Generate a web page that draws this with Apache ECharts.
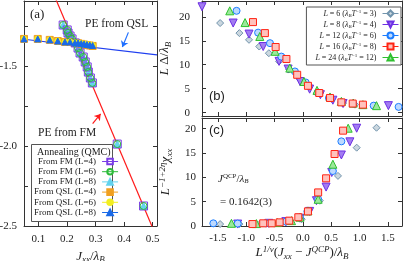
<!DOCTYPE html>
<html><head><meta charset="utf-8">
<script src="https://cdn.jsdelivr.net/npm/echarts@6/dist/echarts.min.js"></script>
<style>html,body{margin:0;padding:0;background:#fff}#c{width:405px;height:261px}</style>
</head><body><div id="c"></div>
<script>
// ---------- Panel (a): annealing energies ----------
const fmJ    = [0.187,0.201,0.204,0.211,0.218,0.229,0.239,0.246,0.257,0.264,0.271,0.275,0.282,0.289,0.376,0.468];
const fmE_L4 = [-1.244,-1.275,-1.294,-1.313,-1.331,-1.356,-1.388,-1.419,-1.444,-1.475,-1.506,-1.538,-1.575,-1.606,-1.988,-2.375];
const fmE_L6 = [-1.244,-1.275,-1.294,-1.313,-1.331,-1.356,-1.388,-1.419,-1.444,-1.475,-1.506,-1.538,-1.575,-1.606,-1.988,-2.375];
const fmE_L8 = [-1.244,-1.275,-1.294,-1.313,-1.331,-1.356,-1.388,-1.419,-1.444,-1.475,-1.506,-1.538,-1.575,-1.606,-1.988,-2.375];
const qslJ    = [0.05,0.098,0.14,0.168,0.193,0.211,0.228,0.239,0.25,0.26,0.27,0.28,0.29];
const qslE_L4 = [-1.331,-1.331,-1.337,-1.344,-1.35,-1.35,-1.356,-1.358,-1.362,-1.366,-1.369,-1.372,-1.375];
const qslE_L6 = [-1.331,-1.331,-1.337,-1.344,-1.35,-1.35,-1.356,-1.356,-1.36,-1.363,-1.366,-1.369,-1.372];
const qslE_L8 = [-1.331,-1.331,-1.337,-1.344,-1.35,-1.35,-1.356,-1.356,-1.36,-1.363,-1.366,-1.369,-1.372];
const fmLineJ  = [0.15, 0.51];
const fmLineE  = [-1.035, -2.555];
const qslLineJ = [0.05, 0.515];
const qslLineE = [-1.333, -1.431];

// ---------- Panel (b): L*Delta ----------
const bX_L6  = [-1.46,-1.12,-0.95,-0.77,-0.6,-0.42,-0.24,-0.05,0.12,0.3,0.51,0.71,0.92,1.27];
const bY_L6  = [18.7,16.6,15.2,13.8,12.4,10.7,9.0,6.9,5.6,4.1,2.85,2.0,1.67,1.46];
const bX_L8  = [-1.78,-1.23,-0.95,-0.7,-0.42,-0.26,-0.05,0.12,0.31,0.53,0.71,1.51];
const bY_L8  = [22.1,18.7,16.4,13.8,10.7,9.1,6.5,4.9,3.75,2.6,1.9,1.46];
const bX_L12 = [-1.17,-0.79,-0.58,-0.38,-0.14,0.05,0.26,0.46,0.68,0.89,1.25,1.69];
const bY_L12 = [21.25,16.7,14.5,11.7,8.6,6.3,4.2,3.06,2.15,1.9,1.46,1.2];
const bX_L16 = [-0.88,-0.67,-0.48,-0.29,-0.1,0.09,0.29,0.48,0.68,0.88,1.06];
const bY_L16 = [18.9,16.6,13.7,11.2,7.9,5.6,4.1,3.06,2.15,1.9,1.67];
const bX_L24 = [-1.29,-1.02,-0.76,-0.49,-0.23,0.02,0.25,0.48,0.68,0.89,1.06,1.3];
const bY_L24 = [21.25,18.8,15.9,12.8,9.3,6.5,4.65,3.27,2.35,2.0,1.67,1.46];

// ---------- Panel (c): scaled susceptibility ----------
const cX_L6  = [-1.46,-1.12,-0.75,-0.4,-0.02,0.3,0.62,0.95,1.3];
const cY_L6  = [0.4,0.4,0.5,0.7,1.4,5.2,10.3,16.1,20.2];
const cX_L8  = [-1.79,-1.15,-0.6,-0.3,-0.05,0.12,0.24,0.41,0.51,0.68,0.83,0.95];
const cY_L8  = [0.4,0.4,0.55,0.9,1.6,3.0,5.2,8.0,11.0,14.6,17.3,20.1];
const cX_L12 = [-1.58,-1.15,-0.65,-0.3,-0.05,0.08,0.27,0.53,0.68];
const cY_L12 = [0.55,0.5,0.55,0.9,1.7,3.0,5.5,11.3,17.4];
const cX_L16 = [-0.89,-0.7,-0.55,-0.41,-0.24,-0.08,0.09,0.27,0.41,0.56,0.71,0.71];
const cY_L16 = [0.4,0.55,0.55,0.75,1.1,1.8,3.0,6.9,9.8,14.8,19.6,22.4];
const cX_L24 = [-1.26,-0.82,-0.45,-0.2,-0.05,0.09,0.27,0.53,0.8];
const cY_L24 = [0.55,0.5,0.7,1.1,1.8,3.1,5.5,12.7,20.1];

const pairs = (xs, ys) => xs.map((x, i) => [x, ys[i]]);
const SERIF = '"Liberation Serif","DejaVu Serif",serif';
const SANS = '"Liberation Sans",Arial,sans-serif';
const AX = '#333';

function mkAxis(grid, min, max, pos, labels, extra) {
  return Object.assign({
    type: 'value', gridIndex: grid, min: min, max: max, position: pos,
    axisLine: {show: true, onZero: false, lineStyle: {color: AX, width: 1}},
    axisTick: {show: true, inside: true, length: 4, lineStyle: {color: AX}},
    axisLabel: {show: labels, fontFamily: SERIF, fontSize: 11, color: '#222', margin: 6,
      showMinLabel: false, showMaxLabel: false},
    splitLine: {show: false}
  }, extra || {});
}
const lab = (margin, fmt) => ({show: true, fontFamily: SERIF, fontSize: 11, color: '#222', margin: margin,
  showMinLabel: false, showMaxLabel: false, formatter: fmt});

const richBase = {
  i: {fontFamily: SERIF, fontStyle: 'italic', fontSize: 13, color: '#222'},
  n: {fontFamily: SERIF, fontSize: 13, color: '#222'},
  s: {fontFamily: SERIF, fontStyle: 'italic', fontSize: 9, color: '#222', verticalAlign: 'bottom', padding: [7, 0, 0, 0]},
  p: {fontFamily: SERIF, fontStyle: 'italic', fontSize: 9, color: '#222', verticalAlign: 'top', padding: [0, 0, 7, 0]}
};
const minor = {show: true, splitNumber: 2, length: 4, lineStyle: {color: AX}};

const xAxis = [
  mkAxis(0, 0.05, 0.515, 'bottom', true, {splitNumber: 5,
    axisLabel: lab(8, v => v.toFixed(1)),
    name: '{i|J}{s|xx}{n|/}{i|λ}{s|B}', nameLocation: 'middle', nameGap: 19,
    nameTextStyle: {rich: richBase}}),
  mkAxis(0, 0.05, 0.515, 'top', false, {splitNumber: 5}),
  mkAxis(1, -1.78, 1.75, 'bottom', false, {splitNumber: 7}),
  mkAxis(1, -1.78, 1.75, 'top', false, {splitNumber: 7}),
  mkAxis(2, -1.78, 1.75, 'bottom', true, {splitNumber: 7,
    axisLabel: lab(7, v => v.toFixed(1)),
    name: '{i|L}{p|1/ν}{n|(}{i|J}{s|xx}{n| − }{i|J}{p|QCP}{n|)/}{i|λ}{s|B}', nameLocation: 'middle', nameGap: 19,
    nameTextStyle: {rich: richBase}}),
  mkAxis(2, -1.78, 1.75, 'top', false, {splitNumber: 7})
];
const yAxis = [
  mkAxis(0, -2.5, -1.094, 'left', true, {splitNumber: 3, minorTick: minor,
    axisLabel: Object.assign(lab(7, v => v.toFixed(1)), {showMinLabel: true}),
    name: '{i|E}{n|/}{i|λ}{s|B}', nameLocation: 'middle', nameGap: 17, nameRotate: 90,
    nameTextStyle: {rich: richBase}}),
  mkAxis(0, -2.5, -1.094, 'right', false, {splitNumber: 3, minorTick: minor}),
  mkAxis(1, -0.7, 23.3, 'left', true, {splitNumber: 5,
    axisLabel: lab(12, v => String(v)),
    name: '{i|L}{n| Δ/}{i|λ}{s|B}', nameLocation: 'middle', nameGap: 29, nameRotate: 90,
    nameTextStyle: {rich: richBase}}),
  mkAxis(1, -0.7, 23.3, 'right', false, {splitNumber: 5}),
  mkAxis(2, 0, 22.2, 'left', true, {splitNumber: 5,
    axisLabel: Object.assign(lab(6, v => String(v)), {showMinLabel: true}),
    name: '{i|L}{p|−1+2η}{i|χ}{s|xx}', nameLocation: 'middle', nameGap: 28, nameRotate: 90,
    nameTextStyle: {rich: richBase}}),
  mkAxis(2, 0, 22.2, 'right', false, {splitNumber: 5})
];

function pt(name, x, y, xi, yi, symbol, size, fill, stroke, rot, z) {
  return {
    name: name, type: 'line', xAxisIndex: xi, yAxisIndex: yi, data: pairs(x, y),
    symbol: symbol, symbolSize: size, symbolRotate: rot || 0, showSymbol: true,
    color: stroke, lineStyle: {opacity: 0, width: 1, color: stroke},
    itemStyle: {color: fill, borderColor: stroke, borderWidth: 1},
    z: z || 3, animation: false, clip: true
  };
}

const series = [
  {type: 'line', name: 'fmLine', xAxisIndex: 0, yAxisIndex: 0, data: pairs(fmLineJ, fmLineE),
   showSymbol: false, symbol: 'none', lineStyle: {color: '#ff1a1a', width: 1.2}, z: 2, animation: false},
  {type: 'line', name: 'qslLine', xAxisIndex: 0, yAxisIndex: 0, data: pairs(qslLineJ, qslLineE),
   showSymbol: false, symbol: 'none', lineStyle: {color: '#1f3ff0', width: 1.2}, z: 2, animation: false},
  pt('From FM (L=4)', fmJ, fmE_L4, 0, 0, 'rect', 8, 'rgba(255,255,255,0)', '#7a3ce6', 0, 4),
  pt('From FM (L=6)', fmJ, fmE_L6, 0, 0, 'circle', 7, 'rgba(255,255,255,0)', '#2dbb3a', 0, 4),
  pt('From FM (L=8)', fmJ, fmE_L8, 0, 0, 'triangle', 7, '#63d3ee', '#63d3ee', 0, 3),
  pt('From QSL (L=4)', qslJ, qslE_L4, 0, 0, 'rect', 7, '#f0a020', '#f0a020', 0, 3),
  pt('From QSL (L=6)', qslJ, qslE_L6, 0, 0, 'circle', 6, '#f2ee22', '#f2ee22', 0, 4),
  pt('From QSL (L=8)', qslJ, qslE_L8, 0, 0, 'triangle', 6, '#1a6ae8', '#1a6ae8', 0, 5),
  {type: 'lines', coordinateSystem: 'cartesian2d', xAxisIndex: 0, yAxisIndex: 0,
   symbol: ['none', 'arrow'], symbolSize: 6, silent: true, animation: false,
   lineStyle: {color: '#1f6fff', width: 1.2, opacity: 1},
   data: [{coords: [[0.415, -1.29], [0.394, -1.382]]}]},
  {type: 'lines', coordinateSystem: 'cartesian2d', xAxisIndex: 0, yAxisIndex: 0,
   symbol: ['none', 'arrow'], symbolSize: 6, silent: true, animation: false,
   lineStyle: {color: '#ff1a1a', width: 1.2, opacity: 1},
   data: [{coords: [[0.29, -1.86], [0.318, -1.8]]}]},

  pt('L6', bX_L6, bY_L6, 2, 2, 'diamond', 7, '#cbd7df', '#7294ad', 0, 3),
  pt('L8', bX_L8, bY_L8, 2, 2, 'triangle', 8, '#a27cf2', '#6d2fe3', 180, 3),
  pt('L12', bX_L12, bY_L12, 2, 2, 'circle', 7, '#bcd9ff', '#1c7dff', 0, 3),
  pt('L16', bX_L16, bY_L16, 2, 2, 'rect', 7, '#ffc2bc', '#ff2414', 0, 4),
  pt('L24', bX_L24, bY_L24, 2, 2, 'triangle', 8, '#9be89b', '#2fc02f', 0, 3),

  pt('L6', cX_L6, cY_L6, 4, 4, 'diamond', 7, '#cbd7df', '#7294ad', 0, 3),
  pt('L8', cX_L8, cY_L8, 4, 4, 'triangle', 8, '#a27cf2', '#6d2fe3', 180, 3),
  pt('L12', cX_L12, cY_L12, 4, 4, 'circle', 7, '#bcd9ff', '#1c7dff', 0, 3),
  pt('L16', cX_L16, cY_L16, 4, 4, 'rect', 7, '#ffc2bc', '#ff2414', 0, 4),
  pt('L24', cX_L24, cY_L24, 4, 4, 'triangle', 8, '#9be89b', '#2fc02f', 0, 3)
];

const legendNames = {
  L6: ['6', '3'], L8: ['8', '4'], L12: ['12', '6'], L16: ['16', '8'], L24: ['24', '12']
};
const legRich = {
  i: {fontFamily: SERIF, fontStyle: 'italic', fontSize: 8, color: '#222'},
  n: {fontFamily: SERIF, fontSize: 8, color: '#222'},
  s: {fontFamily: SERIF, fontStyle: 'italic', fontSize: 5, color: '#222', verticalAlign: 'bottom', padding: [4, 0, 0, 0]},
  p: {fontFamily: SERIF, fontSize: 5, color: '#222', verticalAlign: 'top', padding: [0, 0, 4, 0]}
};

const option = {
  backgroundColor: '#fff',
  animation: false,
  grid: [
    {left: 24, top: 1, width: 133, height: 225, outerBoundsMode: 'none', containLabel: false},
    {left: 202, top: 1, width: 200, height: 115, outerBoundsMode: 'none', containLabel: false},
    {left: 202, top: 118, width: 200, height: 108, outerBoundsMode: 'none', containLabel: false}
  ],
  xAxis: xAxis,
  yAxis: yAxis,
  legend: [
    {data: ['From FM (L=4)', 'From FM (L=6)', 'From FM (L=8)', 'From QSL (L=4)', 'From QSL (L=6)', 'From QSL (L=8)'],
     orient: 'vertical', left: 34, top: 157, align: 'right', itemGap: 1.2, itemWidth: 16, itemHeight: 7,
     padding: 0, selectedMode: false, z: 100,
     textStyle: {fontFamily: SERIF, fontSize: 9, color: '#222', padding: [0, 1, 0, 0]},
     lineStyle: {opacity: 1, width: 1}},
    {data: ['L6', 'L8', 'L12', 'L16', 'L24'],
     orient: 'vertical', right: 4, top: 7, align: 'right', itemGap: 2, itemWidth: 16, itemHeight: 7.5,
     padding: [2, 2, 3, 9], borderColor: '#555', borderWidth: 1, selectedMode: false,
     backgroundColor: '#fff', z: 100,
     formatter: n => '{i|L}{n| = ' + legendNames[n][0] + ' (}{i|λ}{s|B}{i|T}{p|−1}{n| = ' + legendNames[n][1] + ')}',
     textStyle: {rich: legRich, fontSize: 8, padding: [0, 1, 0, 0]},
     lineStyle: {opacity: 1, width: 1}}
  ],
  graphic: [
    {type: 'rect', left: 31, top: 144, shape: {width: 81, height: 77},
     style: {fill: '#fff', stroke: '#555', lineWidth: 1}, z: 50},
    {type: 'text', left: 37, top: 147, z: 100,
     style: {text: 'Annealing (QMC)', font: '10px ' + SERIF, fill: '#222'}},
    {type: 'text', left: 30, top: 8, z: 100,
     style: {text: '(a)', font: '13px ' + SERIF, fill: '#222'}},
    {type: 'text', left: 85, top: 18, z: 100,
     style: {text: 'PE from QSL', font: '11.5px ' + SERIF, fill: '#222'}},
    {type: 'text', left: 38, top: 127, z: 100,
     style: {text: 'PE from FM', font: '11.5px ' + SERIF, fill: '#222'}},
    {type: 'text', left: 209, top: 90, z: 100,
     style: {text: '(b)', font: '13px ' + SANS, fill: '#222'}},
    {type: 'text', left: 209, top: 124, z: 100,
     style: {text: '(c)', font: '13px ' + SANS, fill: '#222'}},
    {type: 'text', left: 218, top: 173, z: 100,
     style: {text: '{i|J}{p|QCP}{n|/}{i|λ}{s|B}', rich: {
       i: {fontFamily: SERIF, fontStyle: 'italic', fontSize: 11, fill: '#222'},
       n: {fontFamily: SERIF, fontSize: 11, fill: '#222'},
       s: {fontFamily: SERIF, fontStyle: 'italic', fontSize: 7, fill: '#222', verticalAlign: 'bottom', padding: [5, 0, 0, 0]},
       p: {fontFamily: SERIF, fontSize: 7, fill: '#222', verticalAlign: 'top', padding: [0, 0, 5, 0]}}}},
    {type: 'text', left: 220, top: 197, z: 100,
     style: {text: '= 0.1642(3)', font: '11px ' + SERIF, fill: '#222'}}
  ],
  series: series
};

const chart = echarts.init(document.getElementById('c'), null, {renderer: 'canvas'});
chart.setOption(option);
</script></body></html>
